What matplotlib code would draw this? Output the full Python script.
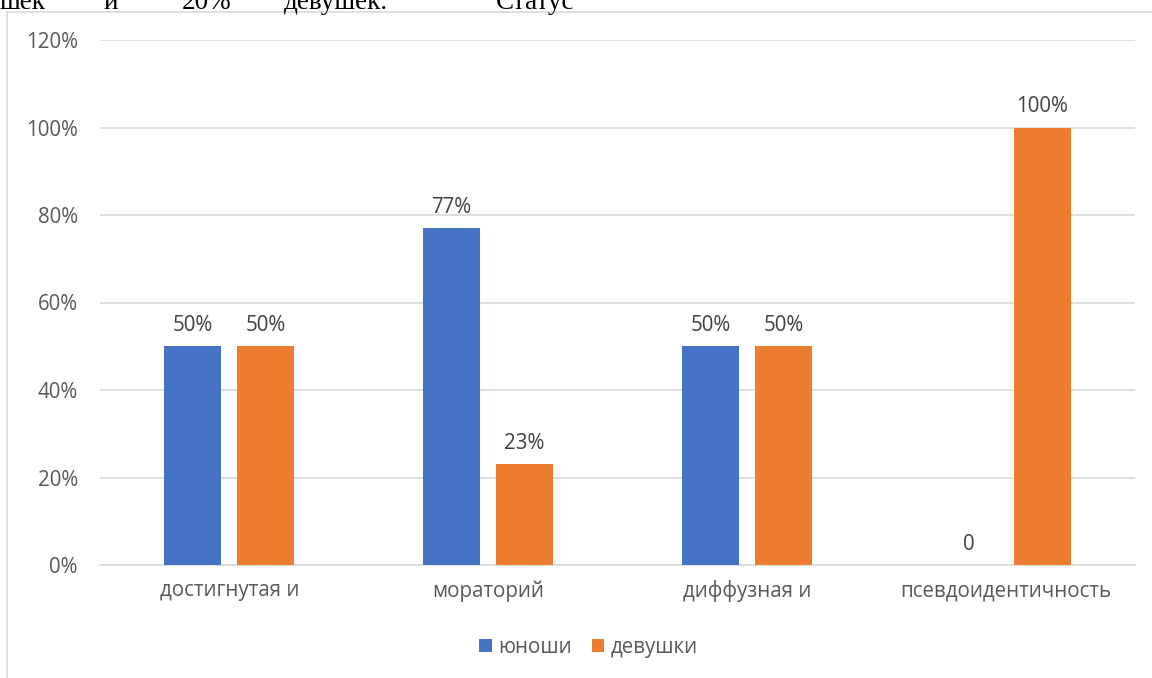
import numpy as np
import matplotlib.pyplot as plt
from matplotlib.lines import Line2D

plt.rcParams['font.family'] = ['Open Sans', 'DejaVu Sans']

categories = ['достигнутая и', 'мораторий', 'диффузная и', 'псевдоидентичность']
boys = [50, 77, 50, 0]
girls = [50, 23, 50, 100]
boys_labels = ['50%', '77%', '50%', '0']
girls_labels = ['50%', '23%', '50%', '100%']
series_names = ['юноши', 'девушки']
yticks = [0, 20, 40, 60, 80, 100, 120]

blue = '#4472c4'
orange = '#ed7d31'
grey = '#595959'
fs = 14.8

fig = plt.figure(figsize=(11.52, 6.78), dpi=100)
ax = fig.add_axes([100/1152, 1 - 565/678, 1035/1152, 525/678])

x = np.arange(len(categories))
w = 0.22
off = 0.141
ax.bar(x - off, boys, w, color=blue, label=series_names[0], zorder=3)
ax.bar(x + off, girls, w, color=orange, label=series_names[1], zorder=3)

for xi, v, s in zip(x, boys, boys_labels):
    ax.text(xi - off, v + 2.4, s, ha='center', va='bottom', fontsize=fs, color='#404040')
for xi, v, s in zip(x, girls, girls_labels):
    ax.text(xi + off, v + 2.4, s, ha='center', va='bottom', fontsize=fs, color='#404040')

ax.set_xlim(-0.5, len(categories) - 0.5)
ax.set_ylim(0, 120)
ax.set_yticks(yticks)
ax.set_yticklabels([f'{t}%' for t in yticks])
ax.set_xticks(x)
ax.set_xticklabels(categories)
ax.yaxis.grid(True, color='#d9d9d9', linewidth=1.2, zorder=0)
for s in ['top', 'right', 'left']:
    ax.spines[s].set_visible(False)
ax.spines['bottom'].set_color('#d9d9d9')
ax.spines['bottom'].set_linewidth(1.2)
ax.tick_params(axis='both', length=0, labelsize=fs, labelcolor=grey)
ax.tick_params(axis='y', pad=16)
ax.tick_params(axis='x', pad=11)

ax.legend(loc='center', bbox_to_anchor=(0.472, -0.157), ncol=2, frameon=False,
          fontsize=fs, labelcolor=grey, handlelength=0.6, handleheight=0.6,
          handletextpad=0.3, columnspacing=1.0)

# chart frame (only top and left edges visible)
fig.add_artist(Line2D([7/1152, 7/1152], [0, 1 - 12/678], transform=fig.transFigure,
                      color='#d9d9d9', linewidth=1.2))
fig.add_artist(Line2D([7/1152, 1], [1 - 12/678, 1 - 12/678], transform=fig.transFigure,
                      color='#d9d9d9', linewidth=1.2))

# cropped document text above the chart
doc_words = ['шек', 'и', '20%', 'девушек.', 'Статус']
doc_x = [0, 104, 182, 284, 496]
for word, px in zip(doc_words, doc_x):
    fig.text(px/1152, 1 - 9/678, word, family=['Liberation Serif', 'DejaVu Serif'],
             fontsize=19.5, color='black', ha='left', va='baseline')

fig.savefig('out.png', dpi=100)
